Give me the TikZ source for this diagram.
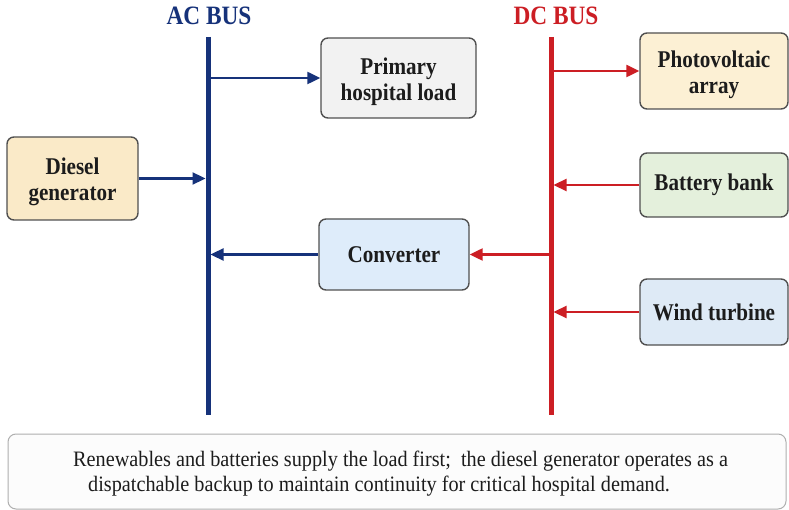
\documentclass[tikz,border=0pt]{standalone}
\usepackage{fontspec}
\setmainfont[FakeStretch=0.88]{Liberation Serif}
\newfontfamily\notefont[FakeStretch=0.92]{Liberation Serif}
\usetikzlibrary{arrows.meta}

\definecolor{acblue}{RGB}{22,50,122}
\definecolor{dcred}{RGB}{204,30,36}
\definecolor{boxedge}{RGB}{80,80,80}
\definecolor{txt}{RGB}{28,28,28}
\definecolor{fillload}{RGB}{242,242,242}
\definecolor{filldiesel}{RGB}{250,234,200}
\definecolor{fillpv}{RGB}{252,240,212}
\definecolor{fillbatt}{RGB}{228,240,220}
\definecolor{fillwind}{RGB}{222,234,246}
\definecolor{fillconv}{RGB}{222,236,250}
\definecolor{noteedge}{RGB}{175,175,175}
\definecolor{notefill}{RGB}{252,252,252}

% two centred lines, set a little below the middle of their box
\newcommand{\twolines}[2]{\raisebox{-4pt}[\height][\depth]{\begin{tabular}{@{}c@{}}#1\\#2\end{tabular}}}

\tikzset{
  unit/.style={draw=boxedge, line width=1.4pt, rounded corners=7pt,
    text=txt, align=center, inner sep=0pt,
    font=\fontsize{24}{26}\selectfont\bfseries},
  buslabel/.style={font=\fontsize{26.5}{26}\selectfont\bfseries, inner sep=0pt},
  busline/.style={line width=5pt},
  acflow/.style={draw=acblue, line width=2.3pt,
    -{Triangle[length=13pt,width=12pt]}},
  dcflow/.style={draw=dcred, line width=2.3pt,
    -{Triangle[length=13pt,width=12pt]}},
  notetext/.style={font=\notefont\fontsize{22}{22}\selectfont, text=txt,
    inner sep=0pt, anchor=base west}
}

\begin{document}
\begin{tikzpicture}[x=1pt,y=-1pt]
  \useasboundingbox (0,0) rectangle (789,510);
  \fill[white] (0,0) rectangle (789,510);

  % buses
  \coordinate (acTop) at (208,37);
  \coordinate (acBot) at (208,415);
  \coordinate (dcTop) at (551,37);
  \coordinate (dcBot) at (551,415);
  \draw[busline, acblue] (acTop) -- (acBot);
  \draw[busline, dcred] (dcTop) -- (dcBot);
  \node[buslabel, text=acblue, anchor=base] (aclbl) at (209,25) {AC BUS};
  \node[buslabel, text=dcred, anchor=base] (dclbl) at (556,25) {DC BUS};

  % units
  \node[unit, fill=fillload, minimum width=155pt, minimum height=80pt]
    (load) at (398.5,78) {\twolines{Primary}{hospital load}};
  \node[unit, fill=filldiesel, minimum width=131pt, minimum height=83pt]
    (diesel) at (72.5,178.5) {\twolines{Diesel}{generator}};
  \node[unit, fill=fillconv, minimum width=150pt, minimum height=71pt]
    (conv) at (394,254.5) {Converter};
  \node[unit, fill=fillpv, minimum width=148pt, minimum height=76pt]
    (pv) at (714,71) {\twolines{Photovoltaic}{array}};
  \node[unit, fill=fillbatt, minimum width=148pt, minimum height=64pt]
    (batt) at (714,185) {Battery bank};
  \node[unit, fill=fillwind, minimum width=148pt, minimum height=66pt]
    (wind) at (714,312) {Wind turbine};

  % power flows on the AC side
  \draw[acflow] (load.west -| acTop) -- (load.west);
  \draw[acflow, shorten >=2.5pt] (diesel.east) -- (diesel.east -| acTop);
  \draw[acflow, shorten >=2.5pt] (conv.west) -- (conv.west -| acTop);

  % power flows on the DC side
  \draw[dcflow] (dcTop |- pv.west) -- (pv.west);
  \draw[dcflow] (conv.east -| dcTop) -- (conv.east);
  \draw[dcflow, shorten >=2.5pt] (batt.west) -- (batt.west -| dcTop);
  \draw[dcflow, shorten >=2.5pt] (wind.west) -- (wind.west -| dcTop);

  % operating note
  \draw[draw=noteedge, fill=notefill, line width=1pt, rounded corners=8pt]
    (8,434) rectangle (786,509);
  \node[notetext] (note1) at (73,466)
    {Renewables and batteries supply the load first;\ \ the diesel generator operates as a};
  \node[notetext] (note2) at (88,491)
    {dispatchable backup to maintain continuity for critical hospital demand.};
\end{tikzpicture}
\end{document}
